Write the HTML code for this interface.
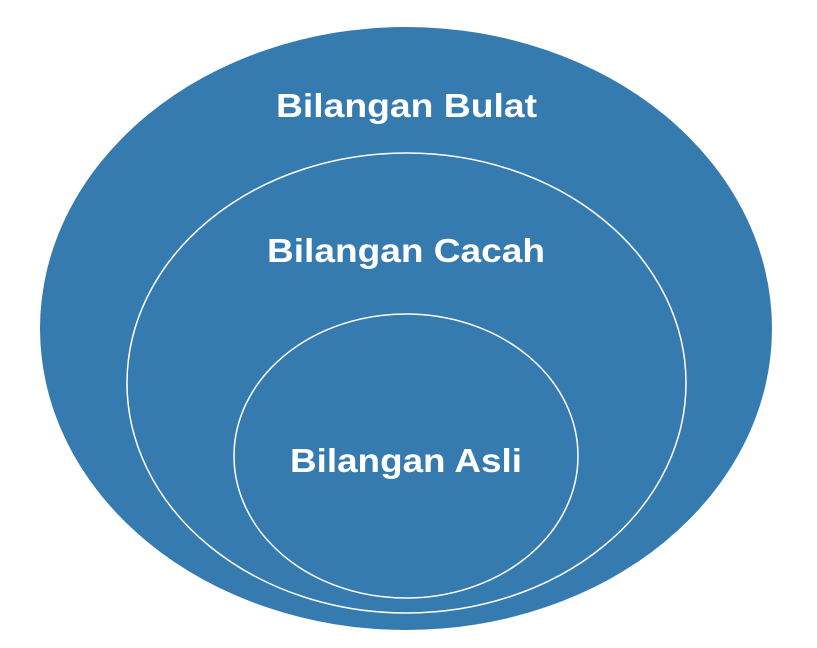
<!DOCTYPE html>
<html><head><meta charset="utf-8"><style>html,body{margin:0;padding:0;background:#fff;}svg{display:block}</style></head>
<body>
<svg width="817" height="648" viewBox="0 0 817 648" xmlns="http://www.w3.org/2000/svg">
<ellipse cx="406" cy="328.5" rx="366" ry="301.5" fill="#357baf"/>
<ellipse cx="406.5" cy="383" rx="279.5" ry="230" fill="#357baf" stroke="#fff" stroke-width="1.5"/>
<ellipse cx="406" cy="456" rx="172" ry="142" fill="#357baf" stroke="#fff" stroke-width="1.5"/>
<g font-family="Liberation Sans, sans-serif" font-weight="bold" font-size="33" fill="#fff">
<text x="276" y="117" textLength="261" lengthAdjust="spacingAndGlyphs">Bilangan Bulat</text>
<text x="267" y="262" textLength="278" lengthAdjust="spacingAndGlyphs">Bilangan Cacah</text>
<text x="290" y="472" textLength="232" lengthAdjust="spacingAndGlyphs">Bilangan Asli</text>
</g>
</svg>
</body></html>
